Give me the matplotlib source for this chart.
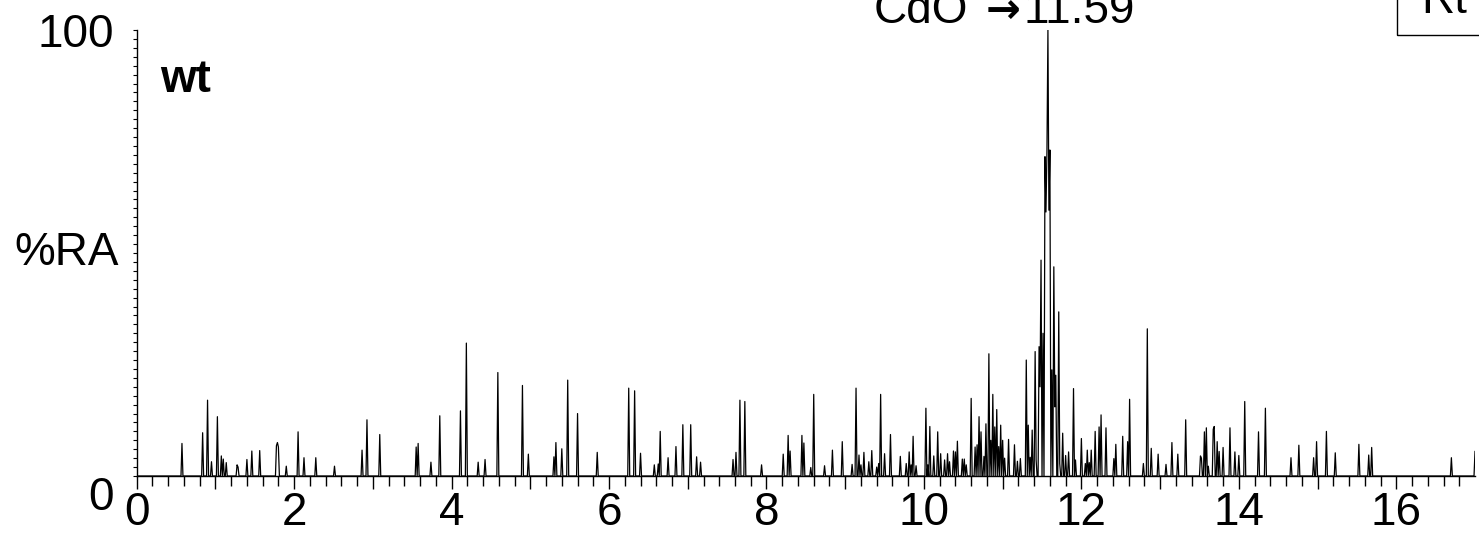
import numpy as np
import matplotlib.pyplot as plt
from matplotlib.patches import Rectangle
from matplotlib.ticker import MultipleLocator

plt.rcParams['font.family'] = ['Liberation Sans', 'DejaVu Sans']

# peak apex readings: retention time (min) and relative abundance (%RA)
rt = [0.571, 0.837, 0.905, 0.955, 1.027, 1.078, 1.100, 1.142, 1.277, 1.290,
      1.404, 1.463, 1.565, 1.780, 1.793, 1.806, 1.903, 2.051, 2.123, 2.270,
      2.517, 2.868, 2.923, 3.084, 3.545, 3.570, 3.735, 3.845, 4.112, 4.188,
      4.335, 4.424, 4.585, 4.898, 4.970,
      5.296, 5.330, 5.401, 5.469, 5.600, 5.850, 6.251, 6.324, 6.396, 6.580,
      6.620, 6.650, 6.755, 6.844, 6.942, 7.034, 7.110, 7.165, 7.580, 7.614,
      7.660, 7.728, 7.940, 8.210, 8.274, 8.303, 8.456, 8.481, 8.561, 8.604,
      8.739, 8.832, 8.963, 9.086, 9.137, 9.170, 9.200, 9.242, 9.300, 9.340,
      9.400, 9.420, 9.454, 9.505, 9.581, 9.699, 9.780, 9.810, 9.840, 9.866,
      9.900,
      10.025, 10.050, 10.080, 10.120, 10.177, 10.210, 10.260, 10.300, 10.330, 10.370,
      10.397, 10.419, 10.490, 10.515, 10.540, 10.597, 10.650, 10.670, 10.700, 10.730,
      10.760, 10.790, 10.829, 10.850, 10.870, 10.900, 10.926, 10.950, 10.977, 11.000,
      11.030, 11.070, 11.146, 11.190, 11.230, 11.294, 11.320, 11.350, 11.370, 11.409,
      11.430, 11.459, 11.470, 11.485, 11.510, 11.536, 11.549, 11.562, 11.580, 11.593,
      11.606, 11.620, 11.645, 11.660, 11.680, 11.708, 11.730, 11.760, 11.800, 11.840,
      11.895, 11.930, 11.997, 12.050, 12.070, 12.100, 12.120, 12.180, 12.220, 12.246,
      12.310, 12.415, 12.437, 12.526, 12.585, 12.612, 12.788, 12.837, 12.893, 12.977,
      13.075, 13.147, 13.231, 13.325, 13.510, 13.531, 13.557, 13.590, 13.610, 13.675,
      13.693, 13.726, 13.750, 13.798, 13.887, 13.950, 14.000, 14.077, 14.251, 14.335,
      14.657, 14.767, 14.953, 14.982, 15.118, 15.220, 15.524, 15.650, 15.685, 16.700,
      17.000]
ra = [7.3, 9.7, 17.0, 3.2, 13.3, 4.5, 3.8, 3.0, 2.5, 2.0,
      3.7, 5.6, 5.7, 6.8, 7.5, 6.5, 2.2, 9.9, 4.1, 4.1,
      2.2, 5.8, 12.6, 9.3, 6.5, 7.3, 3.1, 13.5, 14.6, 29.8,
      3.1, 3.7, 23.2, 20.3, 4.9,
      4.3, 7.5, 6.1, 21.5, 14.0, 5.3, 19.7, 19.1, 5.1, 2.5,
      2.7, 10.0, 4.1, 6.6, 11.5, 11.5, 4.3, 3.1, 3.7, 5.3,
      17.0, 16.7, 2.5, 4.9, 9.1, 5.6, 9.1, 7.4, 1.9, 18.3,
      2.3, 5.8, 7.7, 2.6, 19.7, 4.7, 2.5, 5.3, 3.2, 5.7,
      2.0, 2.8, 18.3, 5.0, 9.3, 4.4, 2.8, 5.4, 2.5, 8.9,
      2.3,
      15.2, 2.5, 11.1, 4.5, 9.9, 5.0, 3.6, 5.0, 3.2, 5.6,
      5.4, 7.8, 3.8, 3.8, 2.5, 17.4, 6.5, 7.0, 13.3, 9.9,
      4.4, 11.7, 27.4, 8.0, 18.3, 11.0, 14.9, 6.6, 11.4, 8.0,
      4.0, 8.2, 7.0, 3.3, 3.9, 26.0, 11.4, 4.2, 10.3, 27.9,
      3.6, 29.0, 20.0, 48.4, 32.0, 71.6, 59.2, 72.7, 100.0, 59.6,
      73.1, 23.8, 46.9, 15.5, 22.6, 36.8, 2.8, 9.6, 4.6, 5.4,
      19.6, 3.6, 8.4, 2.8, 5.8, 3.0, 5.8, 10.0, 11.0, 13.7,
      10.8, 3.9, 7.1, 8.9, 7.7, 17.2, 2.8, 33.0, 6.2, 4.9,
      2.6, 7.5, 4.9, 12.6, 4.5, 4.0, 9.9, 10.8, 2.2, 10.5,
      11.1, 7.7, 5.5, 6.4, 10.8, 5.4, 4.6, 16.7, 9.9, 15.2,
      4.1, 6.9, 4.1, 7.7, 10.0, 5.2, 7.1, 4.7, 6.4, 4.1,
      5.5]

x_ticks = list(range(0, 17))
x_labels = [str(v) if v % 2 == 0 else '' for v in x_ticks]
y_ticks = [0, 100]
y_labels = ['0', '100']
sample = 'wt'
peak_name = 'CdO'
peak_time = '11.59'
box_note = 'Rt'

# scans on a fixed interval, baseline zero between peaks
dt = 0.0125
t = np.arange(0, 17.0 + dt / 2, dt)
sig = np.zeros_like(t)
idx = np.round(np.array(rt) / dt).astype(int)
np.maximum.at(sig, idx, np.array(ra))

fig = plt.figure(figsize=(14.79, 5.42), dpi=100)
ax = fig.add_axes([136.7 / 1479, 66 / 542, (1475 - 136.7) / 1479, 446 / 542])
ax.plot(t, sig, color='black', linewidth=0.9)

ax.set_xlim(0, 17)
ax.set_ylim(0, 100)
for s in ['top', 'right']:
    ax.spines[s].set_visible(False)
for s in ['left', 'bottom']:
    ax.spines[s].set_linewidth(1.0)

ax.set_xticks(x_ticks, x_labels)
ax.set_xticks(np.arange(0, 16.9, 0.2), minor=True)
ax.set_yticks(y_ticks, y_labels)
ax.yaxis.set_minor_locator(MultipleLocator(2))
ax.tick_params(axis='x', which='major', length=9.5, width=1, labelsize=33, pad=1)
ax.tick_params(axis='x', which='minor', length=7.2, width=1)
ax.tick_params(axis='y', which='both', length=2.6, width=0.8)
ax.tick_params(axis='y', which='major', labelsize=33, pad=14)
ax.get_yticklabels()[0].set_verticalalignment('top')

ax.set_ylabel('%RA', rotation=0, fontsize=33, ha='right', va='center')
ax.yaxis.set_label_coords(-0.0135, 0.5)

ax.text(0.0174, 0.861, sample, transform=ax.transAxes, fontsize=33,
        fontweight='bold', va='baseline')

# peak label: name, arrow, retention time
xt = ax.get_xaxis_transform()
ax.text(10.56, 1.0157, peak_name, transform=xt, fontsize=33,
        ha='right', va='baseline', clip_on=False)
ax.text(11.0, 1.0157, '\u2192', transform=xt, fontsize=30, fontweight='bold',
        family=['DejaVu Sans'], ha='center', va='baseline', clip_on=False)
ax.text(12.68, 1.0157, peak_time, transform=xt, fontsize=33,
        ha='right', va='baseline', clip_on=False)

fig.add_artist(Rectangle((1397 / 1479, 1 - 35 / 542), 0.2, 0.2,
                         transform=fig.transFigure, fill=False,
                         edgecolor='black', linewidth=1))
fig.text(1421 / 1479, 1 - 13 / 542, box_note, fontsize=33, va='baseline')

fig.savefig('out.png', dpi=100)
